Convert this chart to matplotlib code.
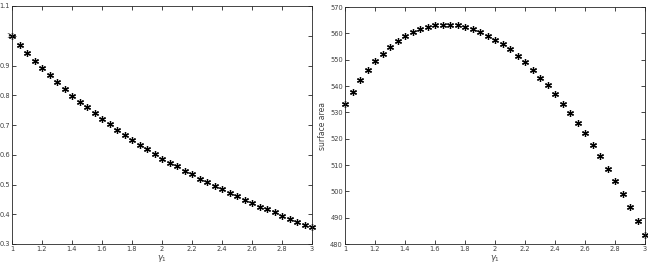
import numpy as np
import matplotlib
matplotlib.use("Agg")
import matplotlib.pyplot as plt

# gamma_1 sampled every 0.05 from 1 to 3
gamma1 = [1.0, 1.05, 1.1, 1.15, 1.2, 1.25, 1.3, 1.35, 1.4, 1.45,
          1.5, 1.55, 1.6, 1.65, 1.7, 1.75, 1.8, 1.85, 1.9, 1.95,
          2.0, 2.05, 2.1, 2.15, 2.2, 2.25, 2.3, 2.35, 2.4, 2.45,
          2.5, 2.55, 2.6, 2.65, 2.7, 2.75, 2.8, 2.85, 2.9, 2.95, 3.0]

# left panel (no y label)
left_vals = [1.000, 0.970, 0.943, 0.916, 0.890, 0.867, 0.843, 0.820, 0.799, 0.778,
             0.759, 0.739, 0.721, 0.702, 0.683, 0.666, 0.649, 0.634, 0.618, 0.602,
             0.587, 0.573, 0.561, 0.546, 0.535, 0.520, 0.508, 0.496, 0.484, 0.472,
             0.461, 0.448, 0.438, 0.426, 0.416, 0.406, 0.394, 0.384, 0.375, 0.365, 0.356]

# right panel: surface area
area_vals = [533.0, 537.8, 542.2, 546.0, 549.4, 552.2, 554.8, 557.1, 559.0, 560.5,
             561.8, 562.5, 563.0, 563.2, 563.2, 563.2, 562.5, 561.7, 560.5, 559.1,
             557.6, 555.8, 553.9, 551.5, 549.1, 546.2, 543.1, 540.4, 536.9, 533.2,
             529.8, 525.9, 522.0, 517.7, 513.4, 508.6, 503.9, 498.9, 494.0, 488.9, 483.3]

left_yticks = [0.3, 0.4, 0.5, 0.6, 0.7, 0.8, 0.9, 1.0, 1.1]
left_yticklabels = ["0.3", "0.4", "0.5", "0.6", "0.7", "0.8", "0.9", "1", "1.1"]
right_yticks = [480, 490, 500, 510, 520, 530, 540, 550, 560, 570]
xticks = [1, 1.2, 1.4, 1.6, 1.8, 2, 2.2, 2.4, 2.6, 2.8, 3]
xticklabels = ["1", "1.2", "1.4", "1.6", "1.8", "2", "2.2", "2.4", "2.6", "2.8", "3"]

fig = plt.figure(figsize=(6.48, 2.66), dpi=100)
ax1 = fig.add_axes([12/648, 22/266, 300/648, 238/266])
ax2 = fig.add_axes([345/648, 22/266, 300/648, 237/266])

gray = "#262626"
txt = "#404040"
star = (6, 2, 0)  # matlab-like asterisk

def style(ax):
    ax.set_xlim(1, 3)
    ax.set_xticks(xticks)
    ax.set_xticklabels(xticklabels)
    ax.tick_params(direction="in", top=True, right=True, length=3, width=0.6,
                   labelsize=4.8, colors=gray, labelcolor=txt, pad=1.5)
    for s in ax.spines.values():
        s.set_linewidth(0.6)
        s.set_color(gray)
    ax.set_xlabel(r"$\gamma_1$", fontsize=6, color=txt, labelpad=1)

ax1.plot(gamma1, left_vals, linestyle="none", marker=star, color="black",
         markersize=5, markeredgewidth=0.9, clip_on=False)
style(ax1)
ax1.set_ylim(0.3, 1.1)
ax1.set_yticks(left_yticks)
ax1.set_yticklabels(left_yticklabels)

ax2.plot(gamma1, area_vals, linestyle="none", marker=star, color="black",
         markersize=5, markeredgewidth=0.9, clip_on=False)
style(ax2)
ax2.set_ylim(480, 570)
ax2.set_yticks(right_yticks)
ax2.set_ylabel("surface area", fontsize=5.5, color=txt, labelpad=2)

fig.savefig("out.png", dpi=100)
